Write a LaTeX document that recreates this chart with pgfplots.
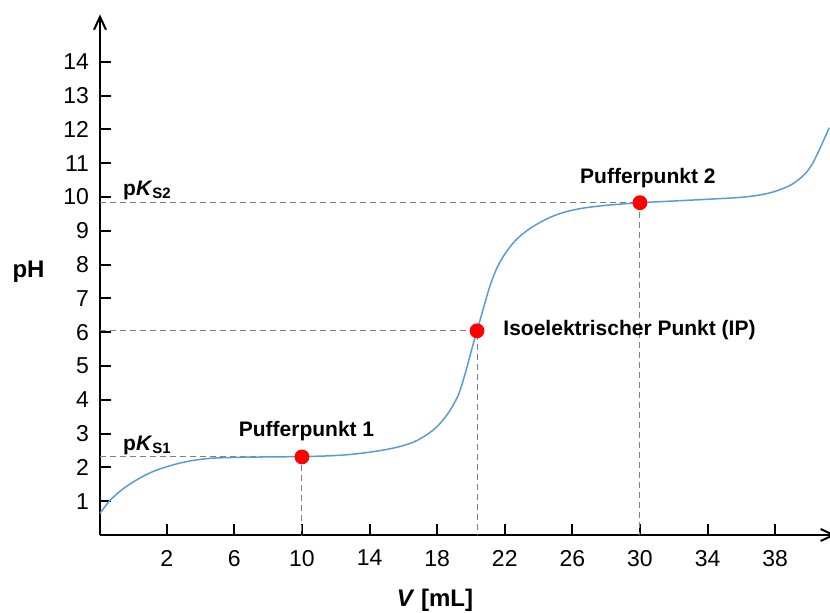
\documentclass[border=0pt]{standalone}
\usepackage{fontspec}
\setmainfont{Liberation Sans}
\usepackage{pgfplots}
\pgfplotsset{compat=1.18}
\usetikzlibrary{arrows.meta}
\definecolor{curveblue}{HTML}{5B9BD5}
\definecolor{dgray}{HTML}{808080}
\begin{document}
\begin{tikzpicture}
\begin{axis}[
  name=ax,
  scale only axis, width=368pt, height=260.3pt,
  xmin=-1.95, xmax=41.6, ymin=0, ymax=15.4,
  axis lines=left,
  axis line style={line width=1pt},
  x axis line style={-{Straight Barb[length=6.5pt,width=6pt]}},
  y axis line style={-{Straight Barb[length=6.5pt,width=6pt]}},
  xtick={2,6,...,38}, ytick={1,...,14},
  major tick length=5.5pt,
  tick style={line width=1pt, black},
  tick align=inside,
  ticklabel style={font=\fontsize{11.5}{13}\selectfont},
  every x tick label/.append style={yshift=-4pt},
  every y tick label/.append style={xshift=-2pt},
  /pgf/number format/assume math mode=true,
  clip=false,
]
\addplot[dgray, line width=0.5pt, dash pattern=on 3pt off 2pt] coordinates {(-1.95,2.31) (10,2.31) (10,0)};
\addplot[dgray, line width=0.5pt, dash pattern=on 3pt off 2pt] coordinates {(-1.95,6.04) (20.36,6.04) (20.36,0)};
\addplot[dgray, line width=0.5pt, dash pattern=on 3pt off 2pt] coordinates {(-1.95,9.84) (30,9.84) (30,0)};
\addplot[curveblue, line width=0.75pt, smooth, tension=0.5, mark=none] coordinates {
(-1.95,0.64) (-1.4,1.0) (-0.8,1.28) (-0.2,1.5) (0.5,1.71) (1.2,1.88) (2.0,2.02)
(2.8,2.13) (3.6,2.21) (4.6,2.27) (5.6,2.29) (6.6,2.30) (8,2.31) (10,2.32) (11.5,2.34)
(12.8,2.38) (14,2.45) (15,2.53) (15.9,2.63) (16.7,2.77) (17.4,2.97) (18.0,3.21)
(18.5,3.50) (18.9,3.80) (19.3,4.2) (19.7,4.85) (20.05,5.5) (20.36,6.04) (20.7,6.64)
(21.1,7.33) (21.5,7.86) (21.9,8.23) (22.4,8.58) (22.9,8.84) (23.5,9.07) (24.1,9.25) (24.7,9.40)
(25.4,9.53) (26.4,9.65) (27.4,9.72) (28.4,9.77) (30.0,9.83) (32.4,9.89) (34.7,9.95) (36.0,9.99)
(37.0,10.05) (37.9,10.15) (38.8,10.32) (39.3,10.48) (39.8,10.7) (40.2,10.98) (40.6,11.38)
(41.0,11.82) (41.2,12.05)};
\addplot[only marks, mark=*, mark size=3.5pt, mark options={draw=red, fill=red}] coordinates {(10,2.31) (20.36,6.04) (30,9.83)};
\node[anchor=base west, inner sep=0pt, font=\fontsize{10.5}{12}\selectfont\bfseries] at (axis cs:-0.6,10.03) {p\textit{K}\raisebox{-1.5pt}{\fontsize{7.5}{8}\selectfont S2}};
\node[anchor=base west, inner sep=0pt, font=\fontsize{10.5}{12}\selectfont\bfseries] at (axis cs:-0.6,2.49) {p\textit{K}\raisebox{-1.5pt}{\fontsize{7.5}{8}\selectfont S1}};
\node[anchor=base, inner sep=0pt, font=\fontsize{10.5}{12}\selectfont\bfseries] at (axis cs:10.27,2.90) {Pufferpunkt 1};
\node[anchor=base, inner sep=0pt, font=\fontsize{10.5}{12}\selectfont\bfseries] at (axis cs:30.47,10.41) {Pufferpunkt 2};
\node[anchor=base west, inner sep=0pt, font=\fontsize{10.5}{12}\selectfont\bfseries] at (axis cs:21.9,5.89) {Isoelektrischer Punkt (IP)};
\node[anchor=base, inner sep=0pt, font=\fontsize{12}{14}\selectfont\bfseries] at (axis cs:-6.18,7.62) {pH};
\node[anchor=base, inner sep=0pt, font=\fontsize{12}{14}\selectfont\bfseries] at (axis cs:17.87,-2.12) {\textit{V} [mL]};
\end{axis}
\pgfresetboundingbox
\path[use as bounding box] ([xshift=-50pt,yshift=-38.5pt]ax.south west) rectangle ++(415pt,306pt);
\end{tikzpicture}
\end{document}
